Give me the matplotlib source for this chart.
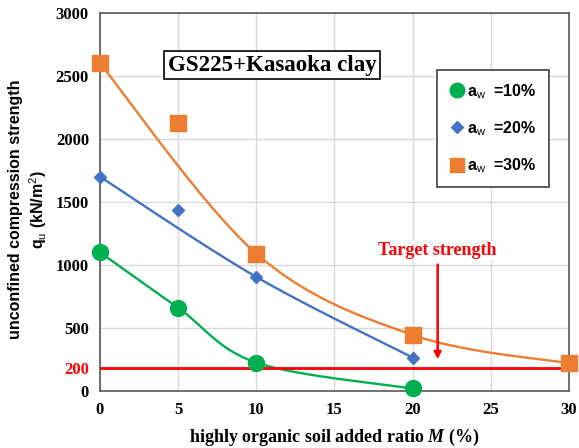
import numpy as np
import matplotlib
matplotlib.use("Agg")
import matplotlib.pyplot as plt
from matplotlib.lines import Line2D

plt.rcParams["mathtext.fontset"] = "custom"
plt.rcParams["mathtext.bfit"] = "Liberation Serif:bold:italic"
plt.rcParams["mathtext.sf"] = "Liberation Sans"

# data
m10 = [0, 5, 10, 20]
q10 = [1100, 660, 225, 20]
m20 = [0, 5, 10, 20]
q20 = [1700, 1440, 905, 265]
m30 = [0, 5, 10, 20, 30]
q30 = [2600, 2130, 1090, 445, 220]
# points that each smoothed line goes through (the 5 % points of 20 and 30 are off the line)
curve10 = [0, 1, 2, 3]
curve20 = [0, 2, 3]
curve30 = [0, 2, 3, 4]
target_q = 185
target_lab = "200"
legend_labels = ["=10%", "=20%", "=30%"]

green = "#00B050"
blue = "#4472C4"
orange = "#ED7D31"
red = "#FF0000"


def smooth(x, y, keep, n=60):
    # excel-like smoothed line: bezier segments with catmull-rom control points,
    # worked out in screen-like units so it bends the same way
    sx, sy = 469 / 30, 378 / 3000
    p = np.column_stack([np.asarray(x, float)[keep] * sx, np.asarray(y, float)[keep] * sy])
    pts = np.vstack([p[0], p, p[-1]])
    t = np.linspace(0, 1, n)[:, None]
    out = []
    for i in range(1, len(pts) - 2):
        p0, p3 = pts[i], pts[i + 1]
        c1 = p0 + (pts[i + 1] - pts[i - 1]) / 6
        c2 = p3 - (pts[i + 2] - pts[i]) / 6
        out.append((1 - t) ** 3 * p0 + 3 * (1 - t) ** 2 * t * c1 + 3 * (1 - t) * t ** 2 * c2 + t ** 3 * p3)
    out = np.vstack(out)
    return out[:, 0] / sx, out[:, 1] / sy


fig = plt.figure(figsize=(5.79, 4.48), dpi=100)
ax = fig.add_axes([0.1727, 0.1272, 0.81, 0.844])

for m, q, keep, c in [(m30, q30, curve30, orange), (m20, q20, curve20, blue), (m10, q10, curve10, green)]:
    xs, ys = smooth(m, q, keep)
    ax.plot(xs, ys, color=c, lw=1.7, zorder=3)

ax.axhline(target_q, color=red, lw=2, zorder=4)

ax.plot(m10, q10, "o", color=green, ms=11.5, ls="none", zorder=5, clip_on=False)
ax.plot(m20, q20, "D", color=blue, ms=6.5, ls="none", zorder=5, clip_on=False)
ax.plot(m30, q30, "s", color=orange, ms=11, ls="none", zorder=5, clip_on=False)

ax.set_xlim(0, 30)
ax.set_ylim(0, 3000)
ax.set_xticks([0, 5, 10, 15, 20, 25, 30])
ax.set_yticks([0, target_q, 500, 1000, 1500, 2000, 2500, 3000])
ax.set_yticklabels(["0", target_lab, "500", "1000", "1500", "2000", "2500", "3000"])
ax.grid(True, color="#D9D9D9", lw=1)
ax.set_axisbelow(True)
for s in ax.spines.values():
    s.set_color("#595959")
    s.set_linewidth(1.2)
ax.tick_params(length=0, pad=8)
for lab in ax.get_xticklabels() + ax.get_yticklabels():
    lab.set_fontfamily("Liberation Serif")
    lab.set_fontweight("bold")
    lab.set_fontsize(12)
ax.get_yticklabels()[1].set_color(red)

ax.set_xlabel(r"highly organic soil added ratio $\mathbfit{M}$ (%)", fontfamily="Liberation Serif",
              fontweight="bold", fontsize=13, labelpad=6)
ax.set_ylabel("unconfined compression strength\nq$_{\\mathsf{u}}$ (kN/m$^{\\mathsf{2}}$)",
              fontfamily="Liberation Sans", fontweight="bold", fontsize=11.5, linespacing=1.25)
ax.yaxis.set_label_coords(-0.108, 0.48)

ax.text(0.367, 0.862, "GS225+Kasaoka clay", transform=ax.transAxes, ha="center", va="center",
        fontfamily="Liberation Serif", fontweight="bold", fontsize=16.5,
        bbox=dict(boxstyle="square,pad=0.15", fc="white", ec="black", lw=1.2))

ax.text(21.6, 1115, "Target strength", color=red, ha="center", va="center",
        fontfamily="Liberation Serif", fontweight="bold", fontsize=13,
        bbox=dict(fc="white", ec="none", pad=1))
ax.annotate("", xy=(21.6, 230), xytext=(21.6, 1025),
            arrowprops=dict(arrowstyle="-|>", color=red, lw=1.8, mutation_scale=10))

handles = [Line2D([], [], marker="o", color=green, ms=10.5, ls="none"),
           Line2D([], [], marker="D", color=blue, ms=6, ls="none"),
           Line2D([], [], marker="s", color=orange, ms=9.5, ls="none")]
labels = ["a$_{\\mathsf{w}}$  " + s for s in legend_labels]
leg = ax.legend(handles, labels, loc="upper right", bbox_to_anchor=(0.957, 0.849), borderaxespad=0,
                handletextpad=0.15, labelspacing=1.15, borderpad=0.75, handlelength=1.0,
                fancybox=False, edgecolor="#404040", framealpha=1,
                prop=dict(family="Liberation Sans", weight="bold", size=11.5))
leg.get_frame().set_linewidth(1.2)

fig.savefig("out.png", dpi=100)
